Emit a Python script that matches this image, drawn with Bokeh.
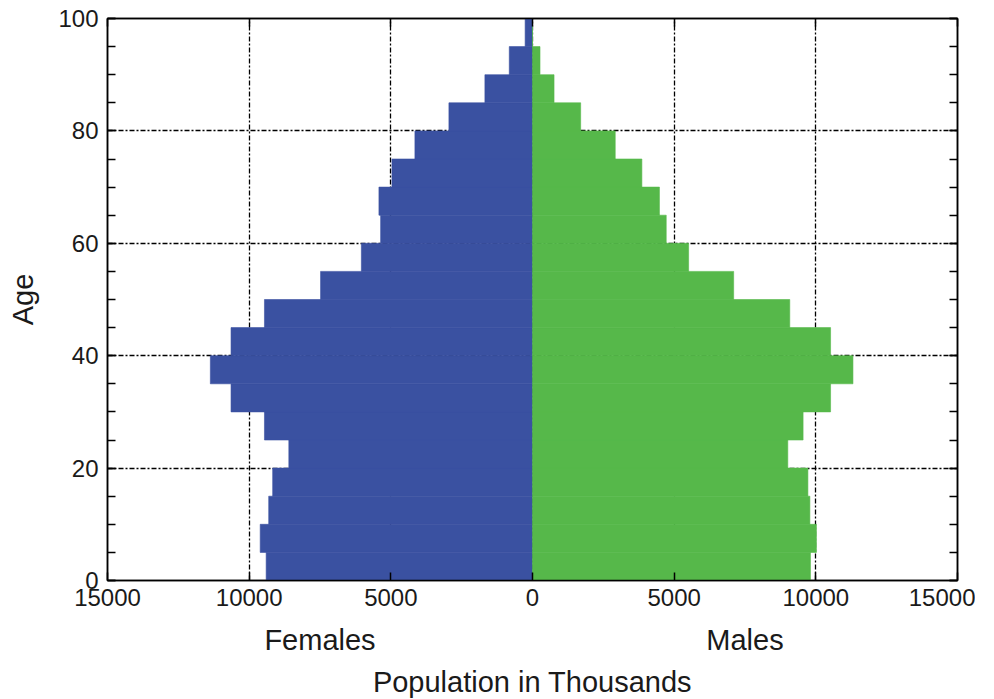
from bokeh.plotting import figure
from bokeh.models import (LinearAxis, SingleIntervalTicker, FixedTicker,
                          CustomJSTickFormatter, ColumnDataSource)
from bokeh.embed import file_html
from bokeh.resources import INLINE

# ---- data (population in thousands, 5-year age groups) ----
age_lo = [0, 5, 10, 15, 20, 25, 30, 35, 40, 45, 50, 55, 60, 65, 70, 75, 80, 85, 90, 95]
females = [9400, 9610, 9310, 9170, 8600, 9460, 10640, 11370, 10640, 9460,
           7480, 6040, 5360, 5420, 4960, 4150, 2950, 1680, 820, 260]
males = [9810, 10020, 9790, 9720, 9010, 9550, 10520, 11310, 10520, 9080,
         7100, 5510, 4720, 4480, 3860, 2920, 1700, 760, 265, 0]
bin_width = 5

BLUE = "#3A51A1"
GREEN = "#56B84A"
FONT = "Liberation Sans"

age_mid = [a + bin_width / 2 for a in age_lo]
src = ColumnDataSource(dict(
    y=age_mid,
    f_left=[-v for v in females],
    zero=[0] * len(age_lo),
    m_right=males,
))

p = figure(frame_width=850, frame_height=562,
           x_range=(-15000, 15000), y_range=(0, 100),
           output_backend="svg", toolbar_location=None,
           min_border_left=107, min_border_top=18, min_border_right=18,
           min_border_bottom=2, background_fill_color="white",
           border_fill_color="white")

p.hbar(y="y", left="f_left", right="zero", height=bin_width, source=src,
       fill_color=BLUE, line_color=BLUE, line_width=0.6)
p.hbar(y="y", left="zero", right="m_right", height=bin_width, source=src,
       fill_color=GREEN, line_color=GREEN, line_width=0.6)

abs_fmt = CustomJSTickFormatter(code="return Math.abs(tick).toString()")

# bottom x axis
xa = p.xaxis[0]
xa.ticker = SingleIntervalTicker(interval=5000, num_minor_ticks=0)
xa.formatter = abs_fmt
xa.major_tick_in = 8
xa.major_tick_out = 0
xa.minor_tick_line_color = None
xa.major_tick_line_width = 1.5
xa.axis_line_width = 1.5
xa.major_label_text_font = FONT
xa.major_label_text_font_size = "24px"
xa.major_label_text_color = "#1a1a1a"
xa.major_label_standoff = 8

# second bottom axis: Females / Males and the title
xa2 = LinearAxis(ticker=FixedTicker(ticks=[-7500, 7500]),
                 formatter=CustomJSTickFormatter(code="return tick < 0 ? 'Females' : 'Males'"),
                 axis_line_color=None, major_tick_line_color=None,
                 minor_tick_line_color=None,
                 major_label_text_font=FONT, major_label_text_font_size="29px",
                 major_label_text_color="#1a1a1a", major_label_standoff=9,
                 axis_label="Population in Thousands",
                 axis_label_text_font=FONT, axis_label_text_font_size="29px",
                 axis_label_text_font_style="normal",
                 axis_label_text_color="#1a1a1a", axis_label_standoff=7)
p.add_layout(xa2, "below")

# left y axis
ya = p.yaxis[0]
ya.ticker = SingleIntervalTicker(interval=20, num_minor_ticks=4)
ya.major_tick_in = 8
ya.major_tick_out = 0
ya.minor_tick_in = 8
ya.minor_tick_out = 0
ya.major_tick_line_width = 1.5
ya.minor_tick_line_width = 1.5
ya.axis_line_width = 1.5
ya.major_label_text_font = FONT
ya.major_label_text_font_size = "24px"
ya.major_label_text_color = "#1a1a1a"
ya.major_label_standoff = 9
ya.axis_label = "Age"
ya.axis_label_text_font = FONT
ya.axis_label_text_font_size = "29px"
ya.axis_label_text_font_style = "normal"
ya.axis_label_text_color = "#1a1a1a"
ya.axis_label_standoff = 16

# top and right axes for the inward ticks
top = LinearAxis(ticker=SingleIntervalTicker(interval=5000, num_minor_ticks=0),
                 major_tick_in=8, major_tick_out=0, minor_tick_line_color=None,
                 major_tick_line_width=1.5, axis_line_width=1.5,
                 major_label_text_font_size="0px", major_label_standoff=0,
                 major_label_text_color=None)
p.add_layout(top, "above")
right = LinearAxis(ticker=SingleIntervalTicker(interval=20, num_minor_ticks=4),
                   major_tick_in=8, major_tick_out=0, minor_tick_in=8, minor_tick_out=0,
                   major_tick_line_width=1.5, minor_tick_line_width=1.5,
                   axis_line_width=1.5,
                   major_label_text_font_size="0px", major_label_standoff=0,
                   major_label_text_color=None)
p.add_layout(right, "right")

# grid: dash-dot at major ticks
p.xgrid.ticker = FixedTicker(ticks=[-10000, -5000, 0, 5000, 10000])
p.ygrid.ticker = FixedTicker(ticks=[20, 40, 60, 80])
for g in (p.xgrid[0], p.ygrid[0]):
    g.grid_line_color = "black"
    g.grid_line_width = 1.3
    g.grid_line_dash = "5 2 2 2"
    g.grid_line_alpha = 1.0

p.outline_line_color = "black"
p.outline_line_width = 1.5

open("out.html", "w").write(file_html(p, INLINE))
